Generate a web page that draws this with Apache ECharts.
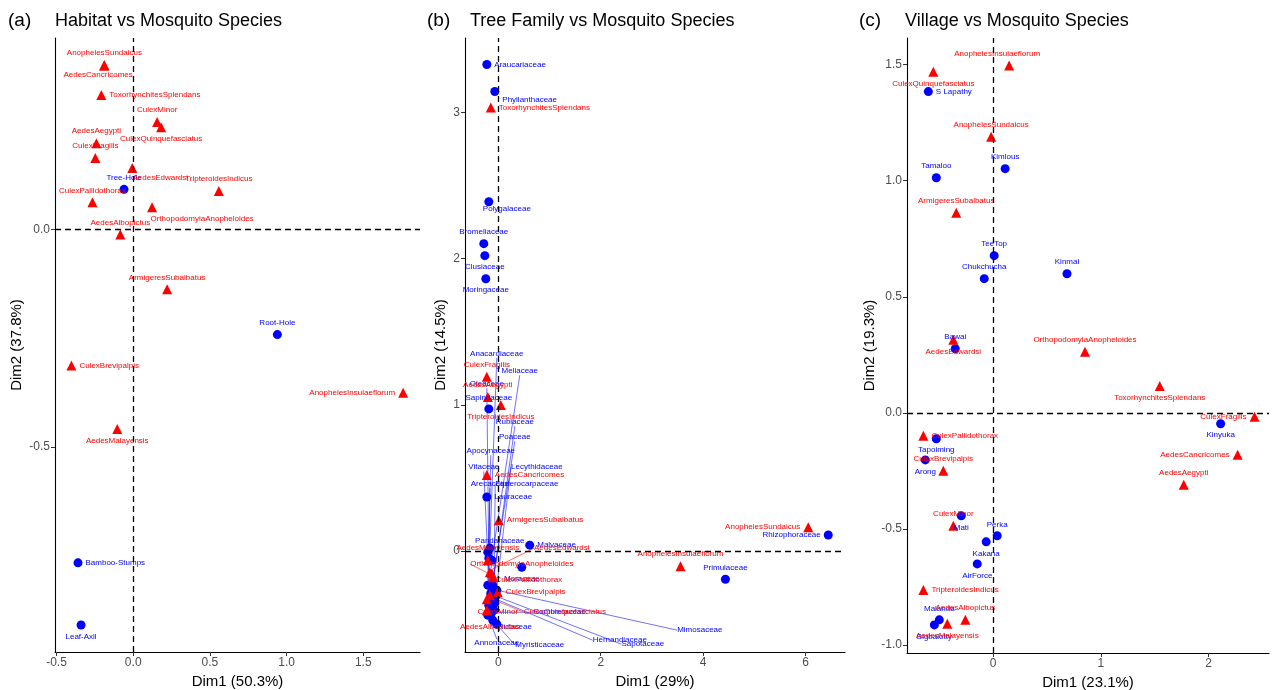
<!DOCTYPE html>
<html>
<head>
<meta charset="utf-8">
<script src="https://cdn.jsdelivr.net/npm/echarts@6/dist/echarts.min.js"></script>
<style>
html, body { margin: 0; padding: 0; background: #fff; }
#chart { width: 1283px; height: 690px; }
</style>
</head>
<body>
<div id="chart"></div>
<script>
// mosquito species, same order in every panel
var species = ['AnophelesSundaicus', 'AedesCancricomes', 'ToxorhynchitesSplendans', 'CulexMinor',
	'CulexQuinquefasciatus', 'AedesAegypti', 'CulexFragilis', 'AedesEdwardsi', 'TripteroidesIndicus',
	'CulexPallidothorax', 'OrthopodomyiaAnopheloides', 'AedesAlbopictus', 'ArmigeresSubalbatus',
	'CulexBrevipalpis', 'AnophelesInsulaeflorum', 'AedesMalayensis'];

// (a) habitat
var habitats = ['Tree-Hole', 'Root-Hole', 'Bamboo-Stumps', 'Leaf-Axil'];
var habitatDim1 = [-0.06, 0.94, -0.36, -0.34];
var habitatDim2 = [0.092, -0.242, -0.767, -0.91];
var speciesDim1A = [-0.188, -0.19, -0.208, 0.156, 0.182, -0.24, -0.247, -0.006, 0.558, -0.266, 0.123, -0.084, 0.221, -0.403, 1.76, -0.104];
var speciesDim2A = [0.378, 0.376, 0.309, 0.247, 0.235, 0.198, 0.164, 0.141, 0.088, 0.062, 0.051, -0.012, -0.138, -0.313, -0.376, -0.459];

// (b) tree family
var families = ['Araucariaceae', 'Phyllanthaceae', 'Polygalaceae', 'Bromeliaceae', 'Clusiaceae', 'Moringaceae',
	'Sapindaceae', 'Lauraceae', 'Malvaceae', 'Moraceae', 'Primulaceae', 'Rhizophoraceae',
	'Anacardiaceae', 'Meliaceae', 'Oleaceae', 'Rubiaceae', 'Poaceae', 'Apocynaceae', 'Vitaceae',
	'Lecythidaceae', 'Arecaceae', 'Dipterocarpaceae', 'Pandanaceae', 'Combretaceae', 'Rutaceae',
	'Annonaceae', 'Myristicaceae', 'Hernandiaceae', 'Sapotaceae', 'Mimosaceae'];
var familyDim1 = [-0.224, -0.068, -0.185, -0.283, -0.263, -0.244, -0.185, -0.224, 0.614, 0.458, 4.435, 6.443,
	-0.166, -0.127, -0.185, -0.107, -0.146, -0.205, -0.166, -0.068, -0.185, -0.088, -0.205, -0.127, -0.029,
	-0.205, -0.107, -0.088, -0.049, -0.029];
var familyDim2 = [3.329, 3.144, 2.39, 2.103, 2.021, 1.863, 0.973, 0.37, 0.041, -0.11, -0.192, 0.11,
	0.021, -0.062, -0.048, -0.233, -0.288, -0.233, -0.336, -0.356, -0.37, -0.404, -0.007, -0.418, -0.5,
	-0.438, -0.473, -0.322, -0.308, -0.267];
var speciesDim1B = [6.053, -0.224, -0.146, -0.224, -0.166, -0.205, -0.224, -0.127, 0.049, -0.107, -0.166, -0.224, 0.01, -0.01, 3.558, -0.205];
var speciesDim2B = [0.164, 0.521, 3.034, -0.329, -0.301, 1.055, 1.192, -0.151, 1.0, -0.178, -0.144, -0.404, 0.212, -0.281, -0.103, -0.062];

// (c) village
var villages = ['S Lapathy', 'Kimlous', 'Tamaloo', 'TeeTop', 'Chukchucha', 'Kinmal', 'Bawai', 'Kinyuka',
	'Tapoiming', 'Arong', 'Mati', 'Perka', 'Kakana', 'AirForce', 'Malanda', 'Bigbalotty'];
var villageDim1 = [-0.602, 0.111, -0.528, 0.009, -0.083, 0.685, -0.352, 2.111, -0.528, -0.63, -0.296, 0.037, -0.065, -0.148, -0.5, -0.546];
var villageDim2 = [1.384, 1.052, 1.013, 0.677, 0.578, 0.599, 0.276, -0.047, -0.112, -0.203, -0.444, -0.53, -0.556, -0.651, -0.892, -0.914];
var speciesDim1C = [-0.019, 2.269, 1.546, -0.37, -0.556, 1.769, 2.426, -0.37, -0.648, -0.648, 0.852, -0.259, -0.343, -0.463, 0.148, -0.426];
var speciesDim2C = [1.19, -0.181, 0.116, -0.487, 1.47, -0.31, -0.017, 0.315, -0.763, -0.099, 0.263, -0.892, 0.862, -0.25, 1.496, -0.909];

// label placement (default: top)
var placeA = {
	'AedesCancricomes': ['bottom', -6, -3], 'ToxorhynchitesSplendans': ['right'], 'CulexQuinquefasciatus': ['bottom'],
	'AedesEdwardsi': ['bottom', 28, -2], 'OrthopodomyiaAnopheloides': ['bottom', 50, 0], 'CulexBrevipalpis': ['right'],
	'AnophelesInsulaeflorum': ['left'], 'AedesMalayensis': ['bottom'], 'Bamboo-Stumps': ['right'], 'Leaf-Axil': ['bottom']
};
var placeB = {
	'Araucariaceae': ['right'], 'Phyllanthaceae': ['right', 0, 8], 'Polygalaceae': ['bottom', 18, -4],
	'Clusiaceae': ['bottom'], 'Moringaceae': ['bottom'], 'Lauraceae': ['right'], 'Malvaceae': ['right'],
	'Moraceae': ['bottom'], 'Rhizophoraceae': ['left'], 'ToxorhynchitesSplendans': ['right'],
	'TripteroidesIndicus': ['bottom'], 'AedesCancricomes': ['right'], 'ArmigeresSubalbatus': ['right'],
	'CulexBrevipalpis': ['right'], 'AnophelesSundaicus': ['left']
};
// repelled labels with guide lines: shift of label centre from the point, px
var leaderB = {
	'Anacardiaceae': [7, -194], 'Meliaceae': [28, -189], 'Oleaceae': [-2, -174], 'Rubiaceae': [22, -163],
	'Poaceae': [24, -156], 'Apocynaceae': [3, -134], 'Vitaceae': [-6, -133], 'Lecythidaceae': [42, -136],
	'Arecaceae': [1, -121], 'Dipterocarpaceae': [33, -126], 'Pandanaceae': [12, -11], 'Combretaceae': [68, 0],
	'Rutaceae': [18, 3], 'Annonaceae': [9, 28], 'Myristicaceae': [47, 25], 'Hernandiaceae': [126, 42],
	'Sapotaceae': [147, 48], 'Mimosaceae': [203, 40],
	'AedesEdwardsi': [70, -25], 'OrthopodomyiaAnopheloides': [32, -8], 'CulexPallidothorax': [36, 3],
	'CulexMinor': [11, 13], 'CulexQuinquefasciatus': [75, 17], 'AedesAlbopictus': [3, 17]
};
var placeC = {
	'S Lapathy': ['right'], 'Kinyuka': ['bottom'], 'Tapoiming': ['bottom'], 'Arong': ['bottom'], 'Mati': ['bottom'],
	'Kakana': ['bottom'], 'AirForce': ['bottom'], 'Bigbalotty': ['bottom'],
	'AnophelesInsulaeflorum': ['top', -12, 0], 'CulexQuinquefasciatus': ['bottom'], 'AedesEdwardsi': ['bottom'],
	'ToxorhynchitesSplendans': ['bottom'], 'CulexFragilis': ['left'], 'AedesCancricomes': ['left'],
	'CulexPallidothorax': ['right'], 'TripteroidesIndicus': ['right'], 'AedesMalayensis': ['bottom']
};

var BLUE = '#0000FF', RED = '#FF0000';
var FONT = 'Liberation Sans, Arial, sans-serif';

function items(names, xs, ys, place, leader, wantLeader) {
	var out = [];
	for (var i = 0; i < names.length; i++) {
		var isLeader = !!(leader && leader[names[i]]);
		if (isLeader !== !!wantLeader) continue;
		var p = (place && place[names[i]]) || ['top'];
		out.push({
			name: names[i],
			value: [xs[i], ys[i]],
			label: isLeader ? { position: 'inside' } : { position: p[0], offset: [p[1] || 0, p[2] || 0] }
		});
	}
	return out;
}

function pts(gi, data, color, symbol, withLeader) {
	var s = {
		type: 'scatter',
		xAxisIndex: gi,
		yAxisIndex: gi,
		symbol: symbol,
		symbolSize: symbol === 'circle' ? 9 : 10,
		itemStyle: { color: color, opacity: 1 },
		z: 3,
		label: { show: true, formatter: '{b}', color: color, fontSize: 8, fontFamily: FONT, distance: 3 },
		emphasis: { disabled: true },
		data: data
	};
	if (withLeader) {
		s.labelLine = { show: true, lineStyle: { color: color, width: 0.7, opacity: 0.8 } };
		s.labelLayout = function (p) {
			var off = leaderB[p.text];
			return off ? { dx: off[0], dy: off[1] } : {};
		};
	}
	return s;
}

function zeroLines(gi) {
	return {
		type: 'line',
		xAxisIndex: gi,
		yAxisIndex: gi,
		data: [],
		z: 1,
		markLine: {
			silent: true,
			symbol: 'none',
			label: { show: false },
			lineStyle: { color: '#000', type: [6, 4], width: 1.3 },
			data: [{ xAxis: 0 }, { yAxis: 0 }]
		}
	};
}

function axis(gi, min, max, ticks, dec, name, gap) {
	return {
		type: 'value', gridIndex: gi, min: min, max: max,
		name: name, nameLocation: 'middle', nameGap: gap,
		nameTextStyle: { color: '#000', fontSize: 15, fontFamily: FONT },
		axisLine: { onZero: false, lineStyle: { color: '#000', width: 1.1 } },
		axisTick: { customValues: ticks, length: 4, lineStyle: { color: '#333' } },
		axisLabel: {
			customValues: ticks, color: '#4d4d4d', fontSize: 12, fontFamily: FONT, margin: 5,
			formatter: function (v) { return v.toFixed(dec); }
		},
		splitLine: { show: false }
	};
}

var myChart = echarts.init(document.getElementById('chart'));

var titleStyle = { color: '#000', fontSize: 18, fontWeight: 'normal', fontFamily: FONT };
var tagStyle = { color: '#000', fontSize: 19, fontWeight: 'normal', fontFamily: FONT };

var option = {
	backgroundColor: '#fff',
	animation: false,
	title: [
		{ text: '(a)', left: 3, top: 6, textStyle: tagStyle },
		{ text: 'Habitat vs Mosquito Species', left: 50, top: 7, textStyle: titleStyle },
		{ text: '(b)', left: 422, top: 6, textStyle: tagStyle },
		{ text: 'Tree Family vs Mosquito Species', left: 465, top: 7, textStyle: titleStyle },
		{ text: '(c)', left: 854, top: 6, textStyle: tagStyle },
		{ text: 'Village vs Mosquito Species', left: 900, top: 7, textStyle: titleStyle }
	],
	grid: [
		{ left: 55, top: 38, width: 365, height: 614, outerBoundsMode: 'none' },
		{ left: 465, top: 38, width: 380, height: 614, outerBoundsMode: 'none' },
		{ left: 907, top: 38, width: 362, height: 615, outerBoundsMode: 'none' }
	],
	xAxis: [
		axis(0, -0.51, 1.87, [-0.5, 0, 0.5, 1, 1.5], 1, 'Dim1 (50.3%)', 20),
		axis(1, -0.65, 6.77, [0, 2, 4, 6], 0, 'Dim1 (29%)', 20),
		axis(2, -0.8, 2.56, [0, 1, 2], 0, 'Dim1 (23.1%)', 20)
	],
	yAxis: [
		axis(0, -0.972, 0.44, [-0.5, 0], 1, 'Dim2 (37.8%)', 31),
		axis(1, -0.69, 3.51, [0, 1, 2, 3], 0, 'Dim2 (14.5%)', 17),
		axis(2, -1.035, 1.615, [-1, -0.5, 0, 0.5, 1, 1.5], 1, 'Dim2 (19.3%)', 29)
	],
	series: [
		zeroLines(0), zeroLines(1), zeroLines(2),
		pts(0, items(habitats, habitatDim1, habitatDim2, placeA), BLUE, 'circle'),
		pts(0, items(species, speciesDim1A, speciesDim2A, placeA), RED, 'triangle'),
		pts(1, items(families, familyDim1, familyDim2, placeB, leaderB, false), BLUE, 'circle'),
		pts(1, items(families, familyDim1, familyDim2, placeB, leaderB, true), BLUE, 'circle', true),
		pts(1, items(species, speciesDim1B, speciesDim2B, placeB, leaderB, false), RED, 'triangle'),
		pts(1, items(species, speciesDim1B, speciesDim2B, placeB, leaderB, true), RED, 'triangle', true),
		pts(2, items(villages, villageDim1, villageDim2, placeC), BLUE, 'circle'),
		pts(2, items(species, speciesDim1C, speciesDim2C, placeC), RED, 'triangle')
	]
};

myChart.setOption(option);
</script>
</body>
</html>
